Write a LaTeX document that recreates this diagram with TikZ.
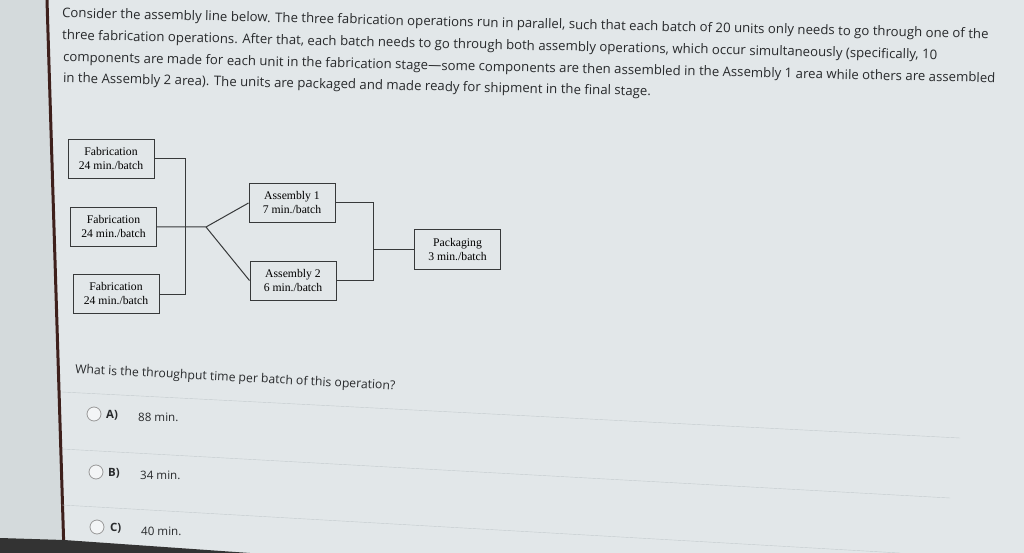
\documentclass[tikz,border=0pt]{standalone}
\usepackage{fontspec}
\setmainfont{Open Sans}
\newfontfamily\boxfont{Liberation Serif}
\definecolor{screen}{RGB}{226,231,233}
\definecolor{bezel}{RGB}{212,218,220}
\definecolor{rim}{RGB}{62,32,28}
\definecolor{ink}{RGB}{40,42,44}
\definecolor{boxline}{RGB}{55,57,58}
\definecolor{rule}{RGB}{196,203,206}
\begin{document}
\begin{tikzpicture}[x=1pt,y=-1pt,
  every node/.style={inner sep=0pt},
  para/.style={anchor=west, rotate=-1.3, text=ink, font=\fontsize{13.2}{15}\selectfont},
  stage/.style={draw=boxline, line width=1pt, fill=screen, minimum width=86pt, minimum height=39pt,
    align=center, text=black, font=\boxfont\fontsize{11.7}{14}\selectfont},
  link/.style={draw=boxline, line width=1pt},
  radio/.style={circle, draw=gray!80, line width=0.8pt, fill=white!60!screen, minimum size=14pt},
  answer/.style={anchor=west, text=ink, font=\fontsize{11.6}{13}\selectfont},
  letter/.style={answer, font=\fontsize{11.4}{13}\selectfont\bfseries}]
\useasboundingbox (0,0) rectangle (1024,553);
\fill[screen] (0,0) rectangle (1024,553);
\fill[bezel] (0,0) -- (47,0) -- (64,553) -- (0,553) -- cycle;
\draw[rim, line width=3pt] (47,0) -- (64,553);
\fill[black!80] (0,538) -- (64,540) -- (250,553) -- (0,553) -- cycle;

% question text
\node[para] (t1) at (62,14) {Consider the assembly line below. The three fabrication operations run in parallel, such that each batch of 20 units only needs to go through one of the};
\node[para] (t2) at (62,36) {three fabrication operations. After that, each batch needs to go through both assembly operations, which occur simultaneously (specifically, 10};
\node[para] (t3) at (63,58) {components are made for each unit in the fabrication stage—some components are then assembled in the Assembly 1 area while others are assembled};
\node[para] (t4) at (63,79) {in the Assembly 2 area). The units are packaged and made ready for shipment in the final stage.};

% diagram
\node[stage] (F1) at (111,159) {Fabrication\\24 min./batch};
\node[stage] (F2) at (113.5,227) {Fabrication\\24 min./batch};
\node[stage] (F3) at (116,294) {Fabrication\\24 min./batch};
\node[stage] (A1) at (292,203) {Assembly 1\\7 min./batch};
\node[stage] (A2) at (293,280.5) {Assembly 2\\6 min./batch};
\node[stage] (P) at (457.5,249.5) {Packaging\\3 min./batch};

\coordinate (join) at (185,0);
\coordinate (split) at (206,227);
\coordinate (merge) at (373,0);

\draw[link] (F1.east) -- (F1.east -| join) -- (F3.east -| join) -- (F3.east);
\draw[link] (F2.east) -- (split) -- (A1.west) (split) -- (A2.west);
\draw[link] (A1.east) -- (A1.east -| merge) -- (A2.east -| merge) -- (A2.east);
\draw[link] (P.west -| merge) -- (P.west);

% answers
\node[anchor=west, rotate=-3, text=ink, font=\fontsize{12.2}{14}\selectfont] (q) at (75,370) {What is the throughput time per batch of this operation?};
\draw[rule] (62,392) -- (960,438);
\draw[rule] (62,449) -- (950,498);
\draw[rule] (62,505) -- (900,553);

\node[radio] (rA) at (94,414) {};
\node[letter] (lA) at (106,415) {A)};
\node[answer] (vA) at (138,417) {88 min.};
\node[radio] (rB) at (96,472) {};
\node[letter] (lB) at (108,473) {B)};
\node[answer] (vB) at (140,475) {34 min.};
\node[radio] (rC) at (97,527) {};
\node[letter] (lC) at (110,528) {C)};
\node[answer] (vC) at (141,531) {40 min.};
\end{tikzpicture}
\end{document}
